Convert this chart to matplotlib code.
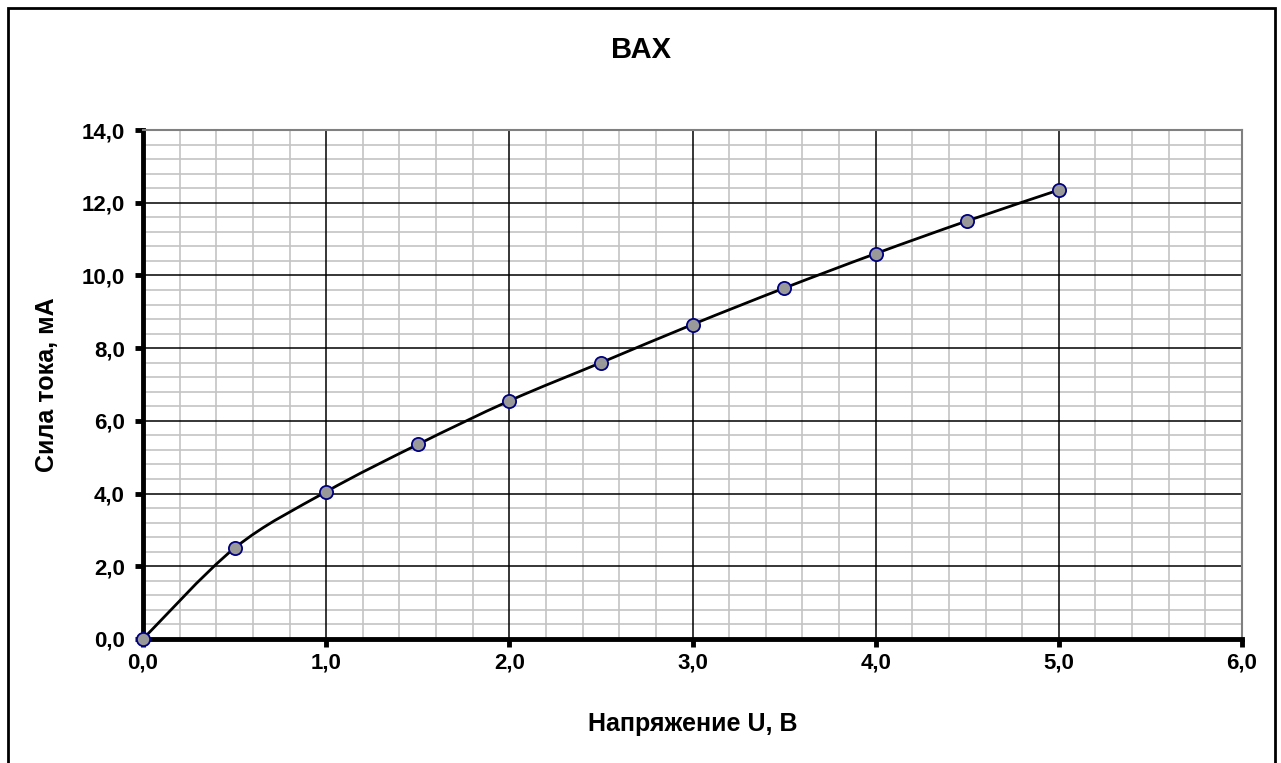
import matplotlib
matplotlib.use("Agg")
import matplotlib.pyplot as plt
from matplotlib.path import Path
from matplotlib.patches import PathPatch, Rectangle
from matplotlib.ticker import MultipleLocator, FixedLocator, FuncFormatter

plt.rcParams['font.family'] = ['Liberation Sans', 'DejaVu Sans']

# data
voltage = [0.0, 0.5, 1.0, 1.5, 2.0, 2.5, 3.0, 3.5, 4.0, 4.5, 5.0]
current = [0.0, 2.5, 4.05, 5.35, 6.55, 7.6, 8.65, 9.65, 10.6, 11.5, 12.35]

title = "ВАХ"
x_label = "Напряжение U, В"
y_label = "Сила тока, мА"


def smooth_path(xs, ys):
    # Excel-like smoothed line: Catmull-Rom segments as cubic Bezier curves
    pts = list(zip(xs, ys))
    verts = [pts[0]]
    codes = [Path.MOVETO]
    n = len(pts)
    for i in range(n - 1):
        p0 = pts[i - 1] if i > 0 else pts[i]
        p1 = pts[i]
        p2 = pts[i + 1]
        p3 = pts[i + 2] if i + 2 < n else pts[i + 1]
        c1 = (p1[0] + (p2[0] - p0[0]) / 6, p1[1] + (p2[1] - p0[1]) / 6)
        c2 = (p2[0] - (p3[0] - p1[0]) / 6, p2[1] - (p3[1] - p1[1]) / 6)
        verts += [c1, c2, p2]
        codes += [Path.CURVE4] * 3
    return Path(verts, codes)


fig = plt.figure(figsize=(12.81, 7.63), dpi=100)
fig.patches.append(Rectangle((8 / 1281, -0.01), 1267 / 1281, 1 - 8 / 763 + 0.01,
                             transform=fig.transFigure, fill=False,
                             edgecolor='black', linewidth=2))

ax = fig.add_axes([143 / 1281, 1 - 639 / 763, (1242 - 143) / 1281, (639 - 130) / 763])

ax.set_xlim(0, 6)
ax.set_ylim(0, 14)
ax.xaxis.set_major_locator(MultipleLocator(1.0))
ax.yaxis.set_major_locator(MultipleLocator(2.0))
ax.xaxis.set_minor_locator(FixedLocator([i * 0.2 for i in range(31) if i % 5]))
ax.yaxis.set_minor_locator(FixedLocator([i * 0.4 for i in range(36) if i % 5]))

fmt = FuncFormatter(lambda v, p: f"{v:.1f}".replace('.', ','))
ax.xaxis.set_major_formatter(fmt)
ax.yaxis.set_major_formatter(fmt)

ax.grid(which='minor', color='#c4c4c4', linewidth=1.2)
ax.set_axisbelow(True)
# major grid drawn on top of the minor one
for xv in ax.get_xticks():
    if 0 < xv < 6:
        ax.axvline(xv, color='black', linewidth=1.1, zorder=1)
for yv in ax.get_yticks():
    if 0 < yv < 14:
        ax.axhline(yv, color='black', linewidth=1.1, zorder=1)

for s in ['top', 'right']:
    ax.spines[s].set_color('#808080')
    ax.spines[s].set_linewidth(1.5)
for s in ['left', 'bottom']:
    ax.spines[s].set_color('black')
    ax.spines[s].set_linewidth(3.5)

ax.tick_params(which='major', direction='out', length=6, width=3.5,
               labelsize=16)
ax.tick_params(which='minor', length=0)
ax.tick_params(axis='x', pad=4)
ax.tick_params(axis='y', pad=7)
for lab in ax.get_xticklabels() + ax.get_yticklabels():
    lab.set_fontweight('bold')

ax.add_patch(PathPatch(smooth_path(voltage, current), fill=False,
                       edgecolor='black', linewidth=2, zorder=3))
ax.plot(voltage, current, linestyle='none', marker='o', markersize=9.5,
        markerfacecolor='#999999', markeredgecolor='#000080',
        markeredgewidth=1.3, zorder=4, clip_on=False)

fig.text(641 / 1281, 1 - 50 / 763, title, ha='center', va='center',
         fontsize=21, fontweight='bold')
ax.set_xlabel(x_label, fontsize=18, fontweight='bold', va='center')
ax.xaxis.set_label_coords(0.5, (639 - 724) / 509)
ax.set_ylabel(y_label, fontsize=18, fontweight='bold', va='center')
ax.yaxis.set_label_coords((47 - 143) / 1099, 0.5)

fig.savefig("out.png", dpi=100)
